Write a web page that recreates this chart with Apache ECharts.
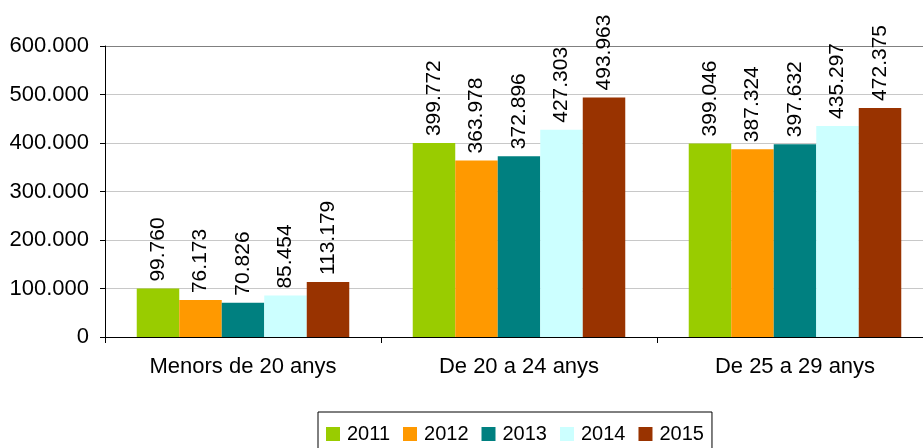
<!DOCTYPE html>
<html>
<head>
<meta charset="utf-8">
<script src="https://cdn.jsdelivr.net/npm/echarts@6/dist/echarts.min.js"></script>
<style>
  html, body { margin: 0; padding: 0; background: #fff; overflow: hidden; }
  /* a bit wider than the window: the original plot is cut off at the right edge */
  #main-chart { width: 933px; height: 448px; }
</style>
</head>
<body>
<div id="main-chart"></div>
<script>
const categories = ['Menors de 20 anys', 'De 20 a 24 anys', 'De 25 a 29 anys'];
const years = ['2011', '2012', '2013', '2014', '2015'];
const colors = ['#99CC00', '#FF9900', '#008080', '#CCFFFF', '#993300'];
const values2011 = [99760, 399772, 399046];
const values2012 = [76173, 363978, 387324];
const values2013 = [70826, 372896, 397632];
const values2014 = [85454, 427303, 435297];
const values2015 = [113179, 493963, 472375];
const seriesValues = [values2011, values2012, values2013, values2014, values2015];

function fmt(v) {
    return String(v).replace(/\B(?=(\d{3})+(?!\d))/g, '.');
}

document.addEventListener('DOMContentLoaded', () => {
    const chartDom = document.getElementById('main-chart');
    const chart = echarts.init(chartDom);
    const font = 'Liberation Sans, Arial, sans-serif';

    const option = {
        animation: false,
        textStyle: { fontFamily: font },
        grid: { left: 105, right: 0, top: 46, bottom: 111, containLabel: false },
        legend: {
            data: years,
            top: 412,
            left: 318,
            itemWidth: 14,
            itemHeight: 14,
            itemGap: 13,
            icon: 'rect',
            borderColor: '#000',
            borderWidth: 1,
            padding: [12, 8, 14, 8],
            textStyle: { fontSize: 20, color: '#000', fontFamily: font, padding: [0, 0, 0, 2] }
        },
        xAxis: {
            type: 'category',
            data: categories,
            axisLine: { lineStyle: { color: '#000' } },
            axisTick: { show: true, length: 6, lineStyle: { color: '#000' } },
            axisLabel: { fontSize: 22, color: '#000', margin: 19 }
        },
        yAxis: {
            type: 'value',
            min: 0,
            max: 600000,
            interval: 100000,
            axisLine: { show: true, lineStyle: { color: '#000' } },
            axisTick: { show: true, length: 5, lineStyle: { color: '#000' } },
            splitLine: { lineStyle: { color: ['#c8c8c8', '#c8c8c8', '#c8c8c8', '#c8c8c8', '#c8c8c8', '#c8c8c8', '#808080'] } },
            axisLabel: { fontSize: 22, color: '#000', margin: 16, formatter: v => fmt(v) }
        },
        series: years.map((y, i) => ({
            name: y,
            type: 'bar',
            data: seriesValues[i],
            barGap: '0%',
            barCategoryGap: '23%',
            itemStyle: { color: colors[i] },
            label: {
                show: true,
                position: 'top',
                rotate: 90,
                align: 'left',
                verticalAlign: 'middle',
                distance: 7,
                fontSize: 21,
                color: '#000',
                formatter: p => fmt(p.value)
            }
        }))
    };
    chart.setOption(option);
});
</script>
</body>
</html>
